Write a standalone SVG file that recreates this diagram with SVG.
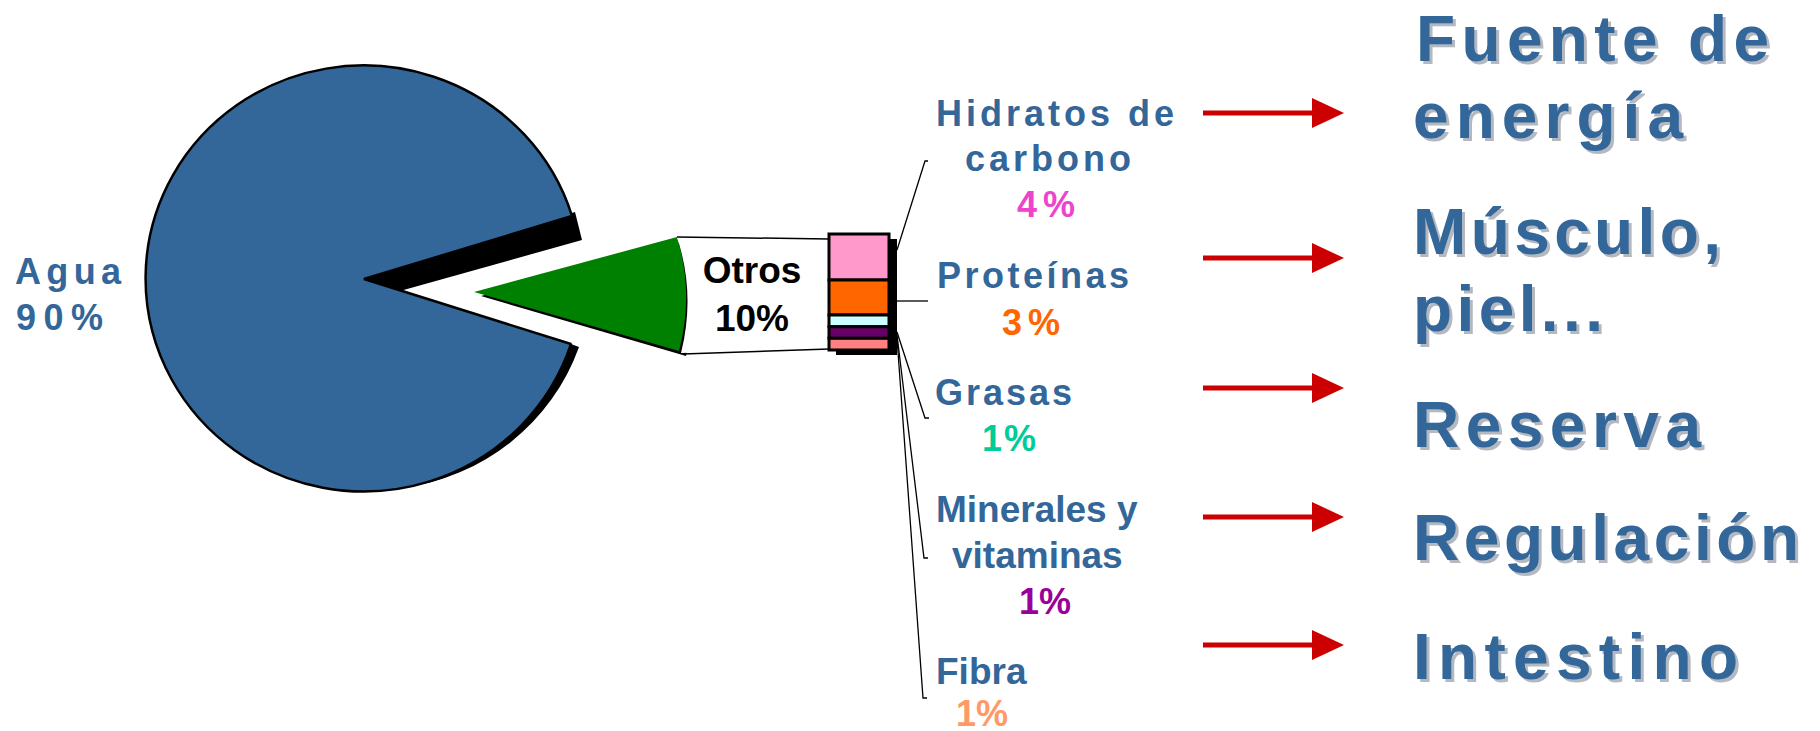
<svg xmlns="http://www.w3.org/2000/svg" width="1820" height="731" viewBox="0 0 1820 731">
<defs>
<style>
.lbl{font-family:"Liberation Sans",Arial,sans-serif;font-weight:bold;fill:#336699;}
.sm{font-size:36px;}
.big{font-size:64px;}
.sh{fill:#B4B8C0;}
.pct{font-family:"Liberation Sans",Arial,sans-serif;font-weight:bold;font-size:36px;}
.lead{stroke:#000;stroke-width:1.3;fill:none;}
.arrow{stroke:#CC0000;stroke-width:5;fill:none;}
.seg{stroke:#000;stroke-width:3;}
</style>
<marker id="ah" markerWidth="32" markerHeight="30" refX="2" refY="15" orient="auto" markerUnits="userSpaceOnUse" viewBox="0 0 32 30">
<path d="M0,0 L32,15 L0,30 Z" fill="#CC0000"/>
</marker>
</defs>
<rect width="1820" height="731" fill="#fff"/>

<g id="pie-agua">
<polygon points="364,279 575,212 582,240 400,291" fill="#000"/>
<path d="M571,344 L579,347 A218,213 0 0 1 402,488 A218,213 0 0 0 571,344 Z" fill="#000"/>
<path d="M364,279 L572,216 A218,213 0 1 0 571,344 Z" fill="#336699" stroke="#000" stroke-width="2.5" stroke-linejoin="bevel"/>
<text class="lbl" x="15" y="284" font-size="36" textLength="106" lengthAdjust="spacing">Agua</text>
<text class="lbl" x="16" y="330" font-size="36" textLength="87" lengthAdjust="spacing">90%</text>
</g>

<g id="pie-otros">
<path d="M481,296 L684,241 A212,210 0 0 1 686,356 Z" fill="#000"/>
<path d="M474,292 L677,237 A212,210 0 0 1 679,351 Z" fill="#008000"/>
<path d="M677,237 L829,239 L829,349 L681,353 A212,210 0 0 0 677,237 Z" fill="#fff"/>
<line x1="677" y1="237" x2="829" y2="239" stroke="#000" stroke-width="1.5"/>
<line x1="683" y1="354" x2="829" y2="349" stroke="#000" stroke-width="1.5"/>
<text x="752" y="283" font-family="Liberation Sans, Arial, sans-serif" font-weight="bold" font-size="37" text-anchor="middle" fill="#000">Otros</text>
<text x="752" y="331" font-family="Liberation Sans, Arial, sans-serif" font-weight="bold" font-size="37" text-anchor="middle" fill="#000">10%</text>
</g>

<g id="stack-bar">
<rect x="836" y="239" width="61" height="116" fill="#000"/>
<rect class="seg" x="829" y="234" width="60" height="46" fill="#FF99CC"/>
<rect class="seg" x="829" y="280" width="60" height="35" fill="#FF6600"/>
<rect class="seg" x="829" y="315" width="60" height="11.7" fill="#CCFFFF"/>
<rect class="seg" x="829" y="326.7" width="60" height="11.6" fill="#660066"/>
<rect class="seg" x="829" y="338.3" width="60" height="11.7" fill="#FF8080"/>
</g>

<g id="connectors">
<polyline class="lead" points="897,250 925,161 928,161"/>
<polyline class="lead" points="897,301 928,301"/>
<polyline class="lead" points="897,332 925,418 929,418"/>
<polyline class="lead" points="897,335 924,558 928,558"/>
<polyline class="lead" points="897,338 923,698 927,698"/>
<line class="arrow" x1="1203" y1="113" x2="1314" y2="113" marker-end="url(#ah)"/>
<line class="arrow" x1="1203" y1="258" x2="1314" y2="258" marker-end="url(#ah)"/>
<line class="arrow" x1="1203" y1="388" x2="1314" y2="388" marker-end="url(#ah)"/>
<line class="arrow" x1="1203" y1="517" x2="1314" y2="517" marker-end="url(#ah)"/>
<line class="arrow" x1="1203" y1="645" x2="1314" y2="645" marker-end="url(#ah)"/>
</g>

<g id="hidratos">
<text class="lbl sm" x="936" y="126" textLength="238" lengthAdjust="spacing">Hidratos de</text>
<text class="lbl sm" x="965" y="171" textLength="166" lengthAdjust="spacing">carbono</text>
<text class="pct" x="1017" y="217" fill="#EE44CC" textLength="58" lengthAdjust="spacing">4%</text>
</g>
<g id="proteinas">
<text class="lbl sm" x="937" y="288" textLength="192" lengthAdjust="spacing">Proteínas</text>
<text class="pct" x="1002" y="335" fill="#FF6600" textLength="58" lengthAdjust="spacing">3%</text>
</g>
<g id="grasas">
<text class="lbl sm" x="935" y="405" textLength="137" lengthAdjust="spacing">Grasas</text>
<text class="pct" x="982" y="451" fill="#00CC99" textLength="54" lengthAdjust="spacing">1%</text>
</g>
<g id="minerales">
<text class="lbl" x="936" y="522" font-size="37">Minerales y</text>
<text class="lbl" x="952" y="568" font-size="37">vitaminas</text>
<text class="pct" x="1019" y="614" font-size="37" fill="#990099">1%</text>
</g>
<g id="fibra">
<text class="lbl" x="936" y="684" font-size="37">Fibra</text>
<text class="pct" x="956" y="726" font-size="36" fill="#FF9966">1%</text>
</g>

<g id="funciones">
<g class="lbl big sh">
<text x="1419" y="64" textLength="353" lengthAdjust="spacing">Fuente de</text>
<text x="1416" y="141" textLength="270" lengthAdjust="spacing">energía</text>
<text x="1416" y="257" textLength="308" lengthAdjust="spacing">Músculo,</text>
<text x="1416" y="334" textLength="190" lengthAdjust="spacing">piel...</text>
<text x="1416" y="450" textLength="288" lengthAdjust="spacing">Reserva</text>
<text x="1416" y="563" textLength="386" lengthAdjust="spacing">Regulación</text>
<text x="1416" y="682" textLength="325" lengthAdjust="spacing">Intestino</text>
</g>
<g class="lbl big">
<text x="1416" y="61" textLength="353" lengthAdjust="spacing">Fuente de</text>
<text x="1413" y="138" textLength="270" lengthAdjust="spacing">energía</text>
<text x="1413" y="254" textLength="308" lengthAdjust="spacing">Músculo,</text>
<text x="1413" y="331" textLength="190" lengthAdjust="spacing">piel...</text>
<text x="1413" y="447" textLength="288" lengthAdjust="spacing">Reserva</text>
<text x="1413" y="560" textLength="386" lengthAdjust="spacing">Regulación</text>
<text x="1413" y="679" textLength="325" lengthAdjust="spacing">Intestino</text>
</g>
</g>
</svg>
